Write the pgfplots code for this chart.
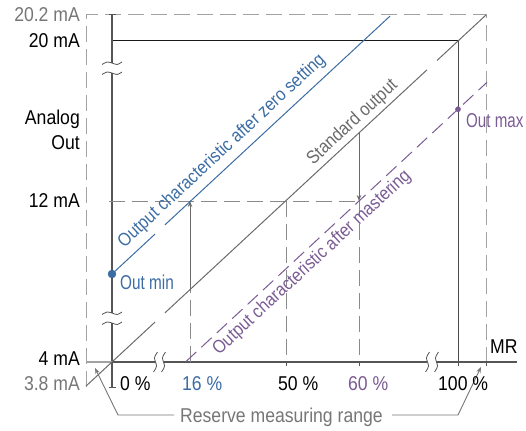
\documentclass[border=0pt]{standalone}
\usepackage{pgfplots}
\pgfplotsset{compat=1.18}
\usepackage{fontspec}
\setmainfont{Liberation Sans}[FakeStretch=0.88]
\usetikzlibrary{arrows.meta}
\definecolor{cblue}{HTML}{3B6CA3}
\definecolor{cpurp}{HTML}{7A5B93}
\definecolor{cgrayt}{HTML}{767676}
\definecolor{caxis}{HTML}{555555}
\definecolor{cstd}{HTML}{6A6A6A}
\definecolor{cdash}{HTML}{8A8A8A}
\definecolor{cframe}{HTML}{A2A2A2}
\begin{document}
\begin{tikzpicture}
\begin{axis}[name=ax, width=526pt, height=430pt, scale only axis,
  xmin=0, xmax=526, ymin=0, ymax=430, y dir=reverse, hide axis, clip=false]
\tikzset{lbl/.style={inner sep=0pt, font=\fontsize{20}{24}\selectfont},
         rlbl/.style={inner sep=0pt, font=\fontsize{18.5}{22}\selectfont},
         ar/.style={-{Stealth[length=6pt,width=4.5pt]}}}
% frame (reserve range)
\addplot[cframe, line width=1pt, dash pattern=on 16pt off 7pt] coordinates {(86,387) (86,15) (486,15) (486,362)};
% 20 mA line and 100% vertical
\addplot[black!90, line width=1pt] coordinates {(112,41) (458,41)};
\addplot[caxis!90!black, line width=1pt] coordinates {(458,41) (458,362)};
% y axis with breaks
\addplot[caxis, line width=1.2pt] coordinates {(112,15) (112,63)};
\addplot[caxis, line width=1.2pt] coordinates {(112,73) (112,313)};
\addplot[caxis, line width=1.2pt] coordinates {(112,323) (112,387)};
\addplot[caxis, line width=1pt] coordinates {(108.5,15) (115.5,15)};
\addplot[caxis, line width=1pt] coordinates {(108.5,387) (115.5,387)};
\addplot[caxis, line width=0.8pt, smooth] coordinates {(102,64.5) (107,62) (112,63) (117,64.5) (122,62)};
\addplot[caxis, line width=0.8pt, smooth] coordinates {(102,74.5) (107,72) (112,73) (117,74.5) (122,72)};
\addplot[caxis, line width=0.8pt, smooth] coordinates {(102,314.5) (107,312) (112,313) (117,314.5) (122,312)};
\addplot[caxis, line width=0.8pt, smooth] coordinates {(102,324.5) (107,322) (112,323) (117,324.5) (122,322)};
% x axis with breaks
\addplot[cframe, line width=1.2pt] coordinates {(86,362) (112,362)};
\addplot[caxis, line width=1.2pt] coordinates {(112,362) (155,362)};
\addplot[caxis, line width=1.2pt] coordinates {(164,362) (427,362)};
\addplot[caxis, line width=1.2pt] coordinates {(436,362) (517,362)};
\addplot[caxis, line width=0.8pt, smooth] coordinates {(157.5,352) (154.5,358) (156.5,366) (153.5,372)};
\addplot[caxis, line width=0.8pt, smooth] coordinates {(165.5,352) (162.5,358) (164.5,366) (161.5,372)};
\addplot[caxis, line width=0.8pt, smooth] coordinates {(429.5,352) (426.5,358) (428.5,366) (425.5,372)};
\addplot[caxis, line width=0.8pt, smooth] coordinates {(438.5,352) (435.5,358) (437.5,366) (434.5,372)};
% x ticks
\addplot[caxis, line width=1pt] coordinates {(286,362) (286,366)};
\addplot[caxis, line width=1pt] coordinates {(359,362) (359,366)};
\addplot[caxis, line width=1pt] coordinates {(458,362) (458,366)};
\addplot[caxis, line width=1pt] coordinates {(486,362) (486,366)};
% 12 mA dashed level and dashed verticals
\addplot[cdash, line width=1pt, dash pattern=on 16pt off 7pt] coordinates {(109,201) (359,201)};
\addplot[cdash, line width=1pt, dash pattern=on 16pt off 7pt] coordinates {(286,201) (286,362)};
\addplot[cdash, line width=1pt, dash pattern=on 16pt off 7pt] coordinates {(359,201) (359,362)};
\addplot[cdash, line width=1pt, dash pattern=on 16pt off 7pt] coordinates {(190,362) (190,290)};
% arrows
\addplot[cstd, line width=0.9pt, ar] coordinates {(190,290) (190,201)};
\addplot[cstd, line width=0.9pt, ar] coordinates {(359,133) (359,201)};
% standard output
\addplot[cstd, line width=1pt] coordinates {(86,386.1) (155,322.1)};
\addplot[cstd, line width=1pt] coordinates {(165,312.8) (427,69.8)};
\addplot[cstd, line width=1pt] coordinates {(437,60.5) (486,15)};
% zero setting (blue)
\addplot[cblue, line width=1pt] coordinates {(112,274) (155,234.1)};
\addplot[cblue, line width=1pt] coordinates {(165,224.8) (390,16.1)};
\addplot[cblue, only marks, mark=*, mark size=4pt] coordinates {(112,274)};
% mastering (purple dashed)
\addplot[cpurp, line width=1pt, dash pattern=on 14pt off 7pt] coordinates {(186,361.5) (487,82.3)};
\addplot[cpurp, only marks, mark=*, mark size=2.6pt] coordinates {(458,109.2)};
% reserve callouts
\addplot[cgrayt, line width=0.9pt, ar] coordinates {(174,415) (118,415) (95,368)};
\addplot[cgrayt, line width=0.9pt, ar] coordinates {(392,415) (458,415) (481,367)};
% left labels
\node[lbl, anchor=base east, text=cgrayt] at (axis cs:80,22) {20.2 mA};
\node[lbl, anchor=base east, text=black] at (axis cs:80,48) {20 mA};
\node[lbl, anchor=base east, text=black] at (axis cs:80,125) {Analog};
\node[lbl, anchor=base east, text=black] at (axis cs:80,150) {Out};
\node[lbl, anchor=base east, text=black] at (axis cs:80,207) {12 mA};
\node[lbl, anchor=base east, text=black] at (axis cs:80,365) {4 mA};
\node[lbl, anchor=base east, text=cgrayt] at (axis cs:80,390) {3.8 mA};
% bottom labels
\node[lbl, anchor=base west, text=black] at (axis cs:120,390) {0 \%};
\node[lbl, anchor=base west, text=cblue] at (axis cs:182,390) {16 \%};
\node[lbl, anchor=base west, text=black] at (axis cs:278,390) {50 \%};
\node[lbl, anchor=base west, text=cpurp] at (axis cs:348,390) {60 \%};
\node[lbl, anchor=base west, text=black] at (axis cs:438,390) {100 \%};
\node[lbl, anchor=base west, text=black] at (axis cs:490,353) {MR};
\node[lbl, anchor=base west, text=cgrayt] at (axis cs:180,422) {Reserve measuring range};
% point labels
\node[lbl, anchor=base west, text=cblue, xscale=0.87] at (axis cs:120,289) {Out min};
\node[lbl, anchor=base west, text=cpurp, xscale=0.86] at (axis cs:466,128) {Out max};
% rotated labels
\node[rlbl, rotate=42.86, text=cblue] at (axis cs:222,151) {Output characteristic after zero setting};
\node[rlbl, rotate=42.86, text=cstd] at (axis cs:352.5,122.5) {Standard output};
\node[rlbl, rotate=42.86, text=cpurp] at (axis cs:312,263) {Output characteristic after mastering};
\end{axis}
\pgfresetboundingbox
\path[use as bounding box] (ax.south west) rectangle (ax.north east);
\end{tikzpicture}
\end{document}
